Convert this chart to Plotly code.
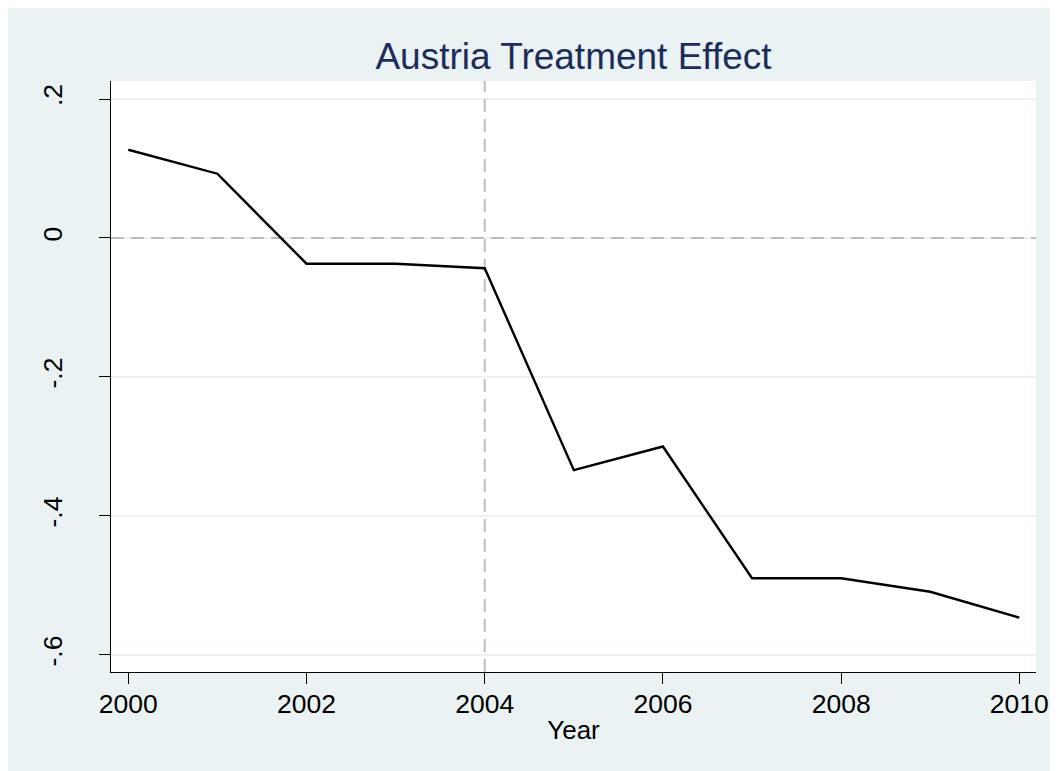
import plotly.graph_objects as go

years = [2000, 2001, 2002, 2003, 2004, 2005, 2006, 2007, 2008, 2009, 2010]
effect = [0.127, 0.0925, -0.037, -0.037, -0.0435, -0.334, -0.300, -0.4896, -0.4896, -0.509, -0.5464]
x_ticks = [2000, 2002, 2004, 2006, 2008, 2010]
y_ticks = [-0.6, -0.4, -0.2, 0, 0.2]
y_ticktext = ["-.6", "-.4", "-.2", "0", ".2"]
treat_year = 2004
x_range = [1999.806, 2010.187]
y_range = [-0.6245, 0.2259]

OFF = 8  # page offset of the figure
W, H = 1058, 771
L, R, T, B = 111 - OFF, 1036 - OFF, 81 - OFF, 672 - OFF
VIS_W, VIS_H = 1058 - OFF, 771 - OFF
BG = "#EAF2F3"
FONT = "Liberation Sans, Arial, sans-serif"

fig = go.Figure()
fig.add_trace(go.Scatter(x=years, y=effect, mode="lines",
                         line=dict(color="black", width=2.4), showlegend=False,
                         hoverinfo="skip"))

# dashed reference lines
fig.add_shape(type="line", xref="x", yref="y", x0=treat_year, x1=treat_year,
              y0=y_range[0], y1=y_range[1], layer="between",
              line=dict(color="#BDBDBD", width=2, dash="13px,7px"))
fig.add_shape(type="line", xref="x", yref="y", x0=x_range[0], x1=x_range[1],
              y0=0, y1=0, layer="between",
              line=dict(color="#BDBDBD", width=2, dash="13px,7px"))

fig.update_layout(
    width=W, height=H,
    margin=dict(l=L, r=W - R, t=T, b=H - B, pad=0),
    paper_bgcolor=BG, plot_bgcolor="white",
    font=dict(family=FONT, color="black", size=26),
    title=dict(text="Austria Treatment Effect", x=(L + R) / 2 / W, xanchor="center",
               xref="container", yref="container", y=1 - (56 - OFF) / H, yanchor="middle",
               font=dict(family=FONT, size=37, color="#1C2D5C")),
)
fig.update_xaxes(range=x_range, tickvals=x_ticks,
                 ticks="outside", ticklen=11, tickwidth=1.3, tickcolor="black",
                 showline=True, linecolor="black", linewidth=1.3,
                 showgrid=False, zeroline=False, ticklabelstandoff=-3,
                 tickfont=dict(size=26.5, family=FONT, color="black"),
                 title=dict(text="Year", standoff=2,
                            font=dict(size=26, family=FONT, color="black")))
fig.update_yaxes(range=y_range, tickvals=y_ticks, ticktext=y_ticktext,
                 tickangle=-90,
                 ticks="outside", ticklen=11, tickwidth=1.3, tickcolor="black",
                 showline=True, linecolor="black", linewidth=1.3,
                 showgrid=True, gridcolor=BG, gridwidth=2, zeroline=False,
                 ticklabelstandoff=26,
                 tickfont=dict(size=26.5, family=FONT, color="black"))

fig.write_html("out.html")
